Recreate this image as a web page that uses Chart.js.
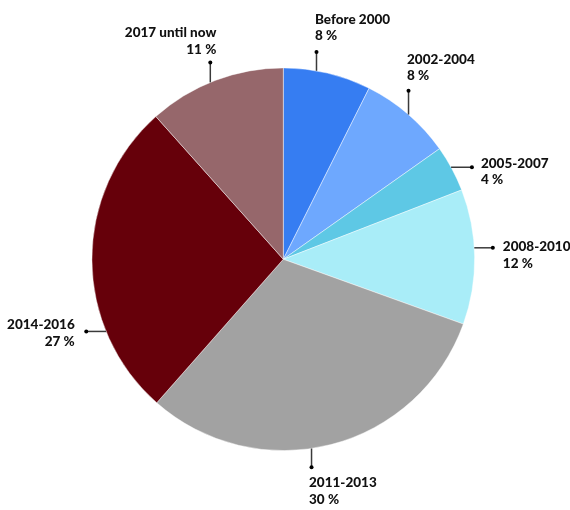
<!DOCTYPE html>
<html>
<head>
<meta charset="utf-8">
<script src="https://cdn.jsdelivr.net/npm/chart.js@4.4.1/dist/chart.umd.min.js"></script>
<style>
  html, body { margin: 0; padding: 0; background: #ffffff; }
  #wrap { width: 570px; height: 510px; position: relative; }
</style>
</head>
<body>
<div id="wrap"><canvas id="c" width="570" height="510"></canvas></div>
<script>
// ---- data ----
const categories = ["Before 2000", "2002-2004", "2005-2007", "2008-2010", "2011-2013", "2014-2016", "2017 until now"];
const shares = [7.4, 7.8, 3.9, 11.4, 31.0, 26.9, 11.6];
const percentLabels = ["8 %", "8 %", "4 %", "12 %", "30 %", "27 %", "11 %"];

// ---- styles ----
const colors = ["#367df2", "#6ea8fe", "#5ec8e5", "#a9edf8", "#a2a2a2", "#66000a", "#96676b"];
// leader layout per slice: anchor position inside slice (fraction), direction
const leaderCfg = [
  { frac: 0.375, dir: "up",    align: "left",  dx: -1.5, l1: -28, l2: -12 },
  { frac: 0.507, dir: "up",    align: "left",  dx: -1.5, l1: -27, l2: -11 },
  { frac: 0.466, dir: "right", align: "left",  dx: 9,    l1: 1,   l2: 17 },
  { frac: 0.434, dir: "right", align: "left",  dx: 10,   l1: 3,   l2: 20 },
  { frac: 0.553, dir: "down",  align: "left",  dx: -2.5, l1: 20,  l2: 37 },
  { frac: 0.273, dir: "left",  align: "right", dx: -11.5, l1: -2, l2: 15 },
  { frac: 0.463, dir: "up",    align: "right", dx: 6,    l1: -26, l2: -9 }
];
const LEADER_RADIUS_EXTRA = 18.5;

const leaderPlugin = {
  id: "leaders",
  afterDraw(chart) {
    const ctx = chart.ctx;
    const meta = chart.getDatasetMeta(0);
    ctx.save();
    meta.data.forEach((arc, i) => {
      const cfg = leaderCfg[i];
      const p = arc.getProps(["x", "y", "startAngle", "endAngle", "outerRadius"], true);
      const a = p.startAngle + (p.endAngle - p.startAngle) * cfg.frac;
      const r = p.outerRadius;
      const R = r + LEADER_RADIUS_EXTRA;
      const ax = p.x + r * Math.cos(a);
      const ay = p.y + r * Math.sin(a);
      let dxp, dyp;
      if (cfg.dir === "up" || cfg.dir === "down") {
        const off = ax - p.x;
        const h = Math.sqrt(Math.max(R * R - off * off, 0));
        dxp = ax;
        dyp = cfg.dir === "up" ? p.y - h : p.y + h;
      } else {
        const off = ay - p.y;
        const w = Math.sqrt(Math.max(R * R - off * off, 0));
        dyp = ay;
        dxp = cfg.dir === "right" ? p.x + w : p.x - w;
      }
      ctx.strokeStyle = "#3a3a3a";
      ctx.lineWidth = 1.5;
      ctx.beginPath();
      ctx.moveTo(ax, ay);
      ctx.lineTo(dxp, dyp);
      ctx.stroke();
      ctx.fillStyle = "#000000";
      ctx.beginPath();
      ctx.arc(dxp, dyp, 2, 0, Math.PI * 2);
      ctx.fill();

      ctx.font = "900 13.5px Lato, 'Open Sans', sans-serif";
      ctx.fillStyle = "#111111";
      ctx.textAlign = cfg.align;
      ctx.textBaseline = "alphabetic";
      const tx = dxp + cfg.dx;
      ctx.fillText(categories[i], tx, dyp + cfg.l1);
      ctx.fillText(percentLabels[i], tx, dyp + cfg.l2);
    });
    ctx.restore();
  }
};

new Chart(document.getElementById("c"), {
  type: "pie",
  data: {
    labels: categories,
    datasets: [{
      data: shares,
      backgroundColor: colors,
      borderColor: "rgba(255,255,255,0.55)",
      borderWidth: 0.8
    }]
  },
  options: {
    responsive: false,
    animation: false,
    layout: { padding: { top: 67.5, bottom: 59, left: 0, right: 3.4 } },
    plugins: {
      legend: { display: false },
      tooltip: { enabled: false }
    }
  },
  plugins: [leaderPlugin]
});
</script>
</body>
</html>
